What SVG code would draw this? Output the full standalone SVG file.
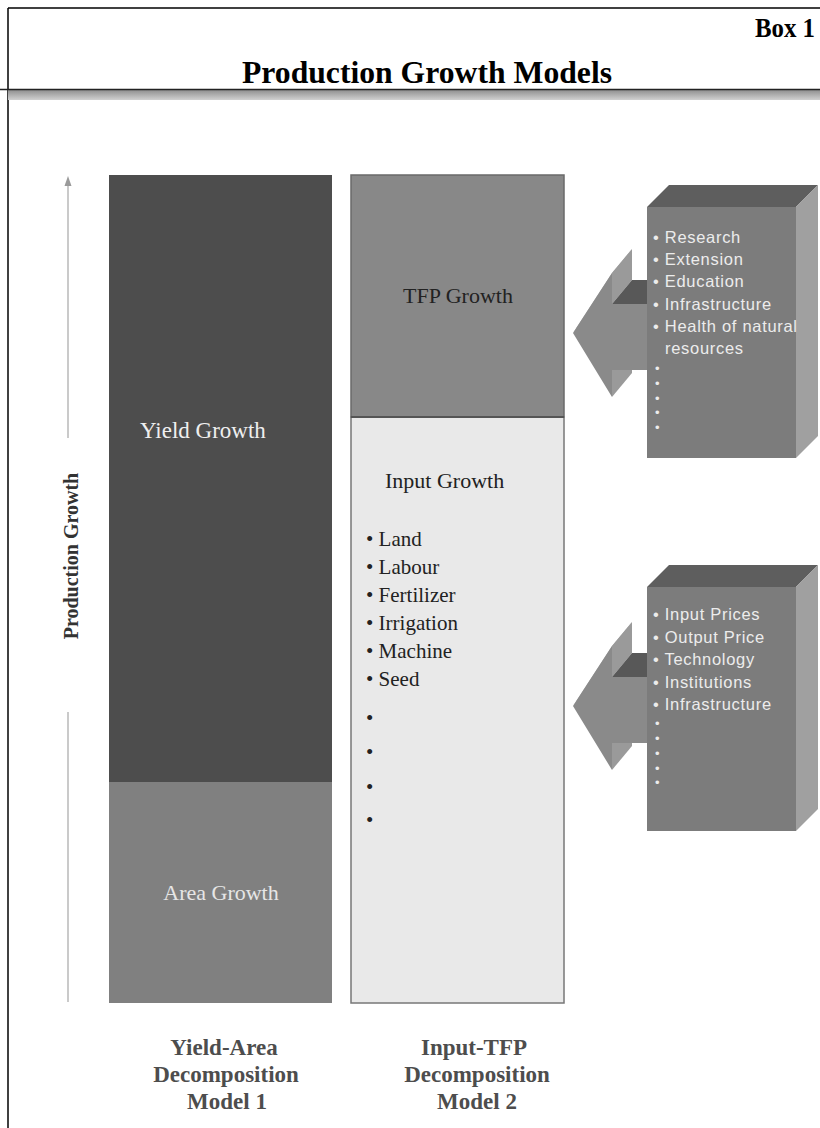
<svg xmlns="http://www.w3.org/2000/svg" width="820" height="1128" viewBox="0 0 820 1128">
<defs>
<linearGradient id="band" x1="0" y1="0" x2="0" y2="1">
<stop offset="0" stop-color="#8f8f8f"/>
<stop offset="1" stop-color="#d0d0d0"/>
</linearGradient>
<style>
.serif{font-family:"Liberation Serif","Times New Roman",serif;}
.sans{font-family:"Liberation Sans",Arial,sans-serif;}
.hdr{font-weight:bold;fill:#000;}
.lbl{font-size:22px;}
.list{font-size:21px;fill:#222;}
.box{font-size:16.5px;fill:#ececec;letter-spacing:0.7px;}
.dot{font-size:13px;fill:#ececec;}
.foot{font-weight:bold;font-size:23px;fill:#4d4d4d;text-anchor:middle;}
.front{fill:#8a8a8a;}
.bevel{fill:#a6a6a6;}
.dark{fill:#585858;}
.side{fill:#9a9a9a;}
.bfront{fill:#7c7c7c;}
.btop{fill:#5e5e5e;}
.bside{fill:#a0a0a0;}
</style>
</defs>
<rect x="0" y="0" width="820" height="1128" fill="#fff"/>
<g id="frame">
<line x1="8" y1="8" x2="820" y2="8" stroke="#000" stroke-width="1.5"/>
<line x1="8" y1="8" x2="8" y2="1128" stroke="#000" stroke-width="1.5"/>
<rect x="8" y="90" width="812" height="10" fill="url(#band)"/>
<line x1="0" y1="89.5" x2="820" y2="89.5" stroke="#222" stroke-width="1.5"/>
<text class="serif hdr" x="815" y="37" font-size="27" text-anchor="end" textLength="60" lengthAdjust="spacingAndGlyphs">Box 1</text>
<text class="serif hdr" x="427" y="83" font-size="32" text-anchor="middle" textLength="370" lengthAdjust="spacingAndGlyphs">Production Growth Models</text>
</g>
<g id="axis">
<line x1="68" y1="184" x2="68" y2="438" stroke="#b8b8b8" stroke-width="1.5"/>
<polygon points="68,176 64.5,186 71.5,186" fill="#9a9a9a"/>
<line x1="68" y1="712" x2="68" y2="1002" stroke="#b8b8b8" stroke-width="1.5"/>
<text class="serif" transform="translate(78,556) rotate(-90)" text-anchor="middle" font-size="20" font-weight="bold" fill="#333">Production Growth</text>
</g>
<g id="model1">
<g id="yield-growth">
<rect x="109" y="175" width="223" height="607" fill="#4d4d4d"/>
<text class="serif" x="140" y="438" font-size="23" fill="#efefef">Yield Growth</text>
</g>
<g id="area-growth">
<rect x="109" y="782" width="223" height="221" fill="#808080"/>
<text class="serif lbl" x="221" y="900" text-anchor="middle" fill="#e6e6e6">Area Growth</text>
</g>
<text class="serif foot" x="224" y="1055">Yield-Area</text>
<text class="serif foot" x="226" y="1082">Decomposition</text>
<text class="serif foot" x="227" y="1109">Model 1</text>
</g>
<g id="model2">
<g id="tfp-growth">
<rect x="351" y="175" width="213" height="242" fill="#888" stroke="#6a6a6a" stroke-width="1.5"/>
<text class="serif lbl" x="458" y="303" text-anchor="middle" fill="#222">TFP Growth</text>
</g>
<g id="input-growth">
<rect x="351" y="417" width="213" height="586" fill="#e9e9e9" stroke="#777" stroke-width="1.5"/>
<line x1="351" y1="417" x2="564" y2="417" stroke="#555" stroke-width="2"/>
<text class="serif lbl" x="385" y="488" fill="#222">Input Growth</text>
<text class="serif list" x="366" y="546">• Land</text>
<text class="serif list" x="366" y="574">• Labour</text>
<text class="serif list" x="366" y="602">• Fertilizer</text>
<text class="serif list" x="366" y="630">• Irrigation</text>
<text class="serif list" x="366" y="658">• Machine</text>
<text class="serif list" x="366" y="686">• Seed</text>
<text class="serif list" x="366" y="725">•</text>
<text class="serif list" x="366" y="759">•</text>
<text class="serif list" x="366" y="794">•</text>
<text class="serif list" x="366" y="827">•</text>
</g>
<text class="serif foot" x="474" y="1055">Input-TFP</text>
<text class="serif foot" x="477" y="1082">Decomposition</text>
<text class="serif foot" x="477" y="1109">Model 2</text>
</g>
<g id="connectors">
<g id="arrow-tfp">
<polygon class="bevel" points="573,333 612,273 632,249 593,309"/>
<polygon class="side" points="612,273 632,249 632,280 612,304"/>
<polygon class="dark" points="612,304 632,280 648,280 648,304"/>
<polygon class="side" points="612,370 632,346 632,373 612,397"/>
<polygon class="front" points="573,333 612,273 612,304 648,304 648,370 612,370 612,397"/>
</g>
<g id="arrow-input">
<polygon class="bevel" points="573,706 612,646 632,622 593,682"/>
<polygon class="side" points="612,646 632,622 632,653 612,677"/>
<polygon class="dark" points="612,677 632,653 648,653 648,677"/>
<polygon class="side" points="612,743 632,719 632,746 612,770"/>
<polygon class="front" points="573,706 612,646 612,677 648,677 648,743 612,743 612,770"/>
</g>
</g>
<g id="tfp-drivers">
<polygon class="btop" points="647,207 669,185 818,185 796,207"/>
<polygon class="bside" points="796,207 818,185 818,436 796,458"/>
<rect class="bfront" x="647" y="207" width="149" height="251"/>
<text class="sans box" x="653" y="243">• Research</text>
<text class="sans box" x="653" y="265">• Extension</text>
<text class="sans box" x="653" y="287">• Education</text>
<text class="sans box" x="653" y="310">• Infrastructure</text>
<text class="sans box" x="653" y="332">• Health of natural</text>
<text class="sans box" x="665" y="354">resources</text>
<text class="sans dot" x="655" y="372.5">•</text>
<text class="sans dot" x="655" y="387.5">•</text>
<text class="sans dot" x="655" y="402.5">•</text>
<text class="sans dot" x="655" y="416.5">•</text>
<text class="sans dot" x="655" y="431.5">•</text>
</g>
<g id="input-drivers">
<polygon class="btop" points="647,587 669,565 818,565 796,587"/>
<polygon class="bside" points="796,587 818,565 818,809 796,831"/>
<rect class="bfront" x="647" y="587" width="149" height="244"/>
<text class="sans box" x="653" y="620">• Input Prices</text>
<text class="sans box" x="653" y="643">• Output Price</text>
<text class="sans box" x="653" y="665">• Technology</text>
<text class="sans box" x="653" y="688">• Institutions</text>
<text class="sans box" x="653" y="710">• Infrastructure</text>
<text class="sans dot" x="655" y="727.5">•</text>
<text class="sans dot" x="655" y="742.5">•</text>
<text class="sans dot" x="655" y="757.5">•</text>
<text class="sans dot" x="655" y="772.5">•</text>
<text class="sans dot" x="655" y="786.5">•</text>
</g>
</svg>
